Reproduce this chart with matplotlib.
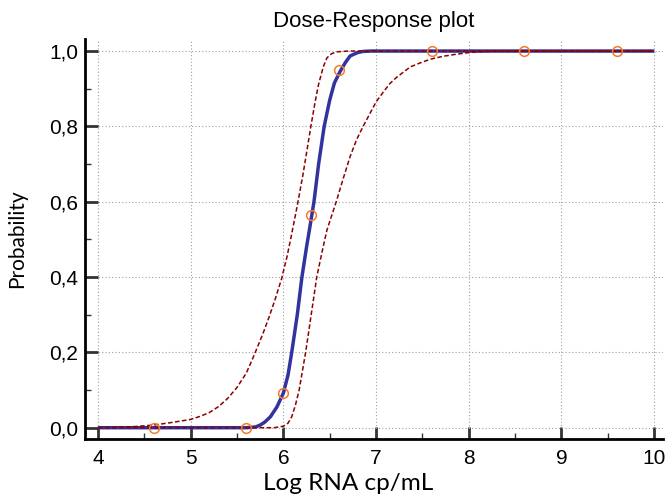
import matplotlib
matplotlib.use("Agg")
import matplotlib.pyplot as plt
from matplotlib.ticker import MultipleLocator, FuncFormatter

plt.rcParams["font.family"] = ["Liberation Sans", "DejaVu Sans"]

# Observed proportions
obs_x = [4.6, 5.6, 6.0, 6.3, 6.6, 7.6, 8.6, 9.6]
obs_y = [0.0, 0.0, 0.092, 0.565, 0.95, 1.0, 1.0, 1.0]

# Fitted curve
fit_x = [4.0, 5.0, 5.6, 5.7, 5.75, 5.8, 5.86, 5.93, 6.0, 6.05, 6.09, 6.15, 6.2, 6.25, 6.28,
         6.33, 6.38, 6.44, 6.5, 6.55, 6.61, 6.67, 6.72, 6.8, 6.86, 6.95, 10.0]
fit_y = [0.0, 0.0, 0.0, 0.002, 0.007, 0.015, 0.029, 0.055, 0.092, 0.14, 0.2, 0.3, 0.4, 0.48, 0.524,
         0.6, 0.7, 0.8, 0.87, 0.915, 0.945, 0.97, 0.987, 0.996, 0.999, 1.0, 1.0]

# Upper confidence band (left dashed curve)
ci_hi_x = [4.0, 4.2, 4.4, 4.6, 4.8, 5.0, 5.1, 5.2, 5.3, 5.4, 5.5, 5.6, 5.68, 5.78, 5.84, 5.91, 5.98,
           6.04, 6.09, 6.15, 6.21, 6.26, 6.30, 6.34, 6.38, 6.43, 6.47, 6.52, 6.58, 6.7, 10.0]
ci_hi_y = [0.0, 0.001, 0.003, 0.007, 0.014, 0.022, 0.03, 0.04, 0.056, 0.078, 0.107, 0.145, 0.19, 0.25, 0.29, 0.34, 0.395,
           0.455, 0.515, 0.59, 0.67, 0.745, 0.805, 0.862, 0.912, 0.958, 0.982, 0.993, 0.998, 1.0, 1.0]

# Lower confidence band (right dashed curve)
ci_lo_x = [4.0, 5.9, 6.0, 6.05, 6.09, 6.13, 6.17, 6.24, 6.30, 6.36, 6.42, 6.47, 6.57, 6.65,
           6.72, 6.79, 6.86, 7.0, 7.08, 7.15, 7.22, 7.3, 7.37, 7.47, 7.58, 7.72, 7.85, 7.97, 8.1, 8.3, 10.0]
ci_lo_y = [0.0, 0.0, 0.004, 0.012, 0.029, 0.06, 0.1, 0.2, 0.3, 0.4, 0.47, 0.525, 0.6, 0.665,
           0.72, 0.765, 0.80, 0.865, 0.892, 0.914, 0.93, 0.945, 0.958, 0.968, 0.978, 0.986, 0.991, 0.995, 0.998, 1.0, 1.0]

x_ticks = [4, 5, 6, 7, 8, 9, 10]
y_ticks = [0.0, 0.2, 0.4, 0.6, 0.8, 1.0]

fig = plt.figure(figsize=(6.67, 5.04), dpi=100)
ax = fig.add_axes([85 / 667, 1 - 439 / 504, 578 / 667, 400 / 504])

ax.plot(fit_x, fit_y, color="#33339F", lw=2.5, zorder=3, solid_capstyle="butt")
ax.plot(ci_hi_x, ci_hi_y, color="#8B0000", lw=1.1, ls=(0, (3, 1.6)), zorder=4)
ax.plot(ci_lo_x, ci_lo_y, color="#8B0000", lw=1.1, ls=(0, (3, 1.6)), zorder=4)
ax.plot(obs_x, obs_y, ls="none", marker="o", ms=7, mfc="none", mec="#F57A2A", mew=1.1, zorder=5)

ax.set_xlim(3.86, 10.095)
ax.set_ylim(-0.030, 1.032)
ax.set_xticks(x_ticks)
ax.set_yticks(y_ticks)
ax.xaxis.set_minor_locator(MultipleLocator(0.5))
ax.yaxis.set_minor_locator(MultipleLocator(0.1))
ax.yaxis.set_major_formatter(FuncFormatter(lambda v, p: f"{v:.1f}".replace(".", ",")))
ax.xaxis.set_major_formatter(FuncFormatter(lambda v, p: f"{v:g}"))

for s in ["top", "right"]:
    ax.spines[s].set_visible(False)
for s in ["left", "bottom"]:
    ax.spines[s].set_linewidth(2.0)
    ax.spines[s].set_color("black")

ax.tick_params(which="major", direction="in", length=9, width=2.0, color="#333333", pad=5,
               labelsize=15)
ax.tick_params(which="minor", direction="in", length=4, width=1.0, color="#333333")
ax.tick_params(axis="x", which="major", pad=7)

ax.grid(True, which="major", color="#A0A0A0", lw=0.8, ls=(0, (1, 2)))
ax.set_axisbelow(True)

ax.set_title("Dose-Response plot", fontsize=16, pad=8.5)
ax.set_xlabel("Log RNA cp/mL", fontfamily="Lato", fontsize=17.5)
ax.xaxis.set_label_coords(0.455, -0.085)
ax.set_ylabel("Probability", fontfamily="Lato", fontsize=15)
ax.yaxis.set_label_coords(-0.10, 0.5)

fig.savefig("out.png", dpi=100)
